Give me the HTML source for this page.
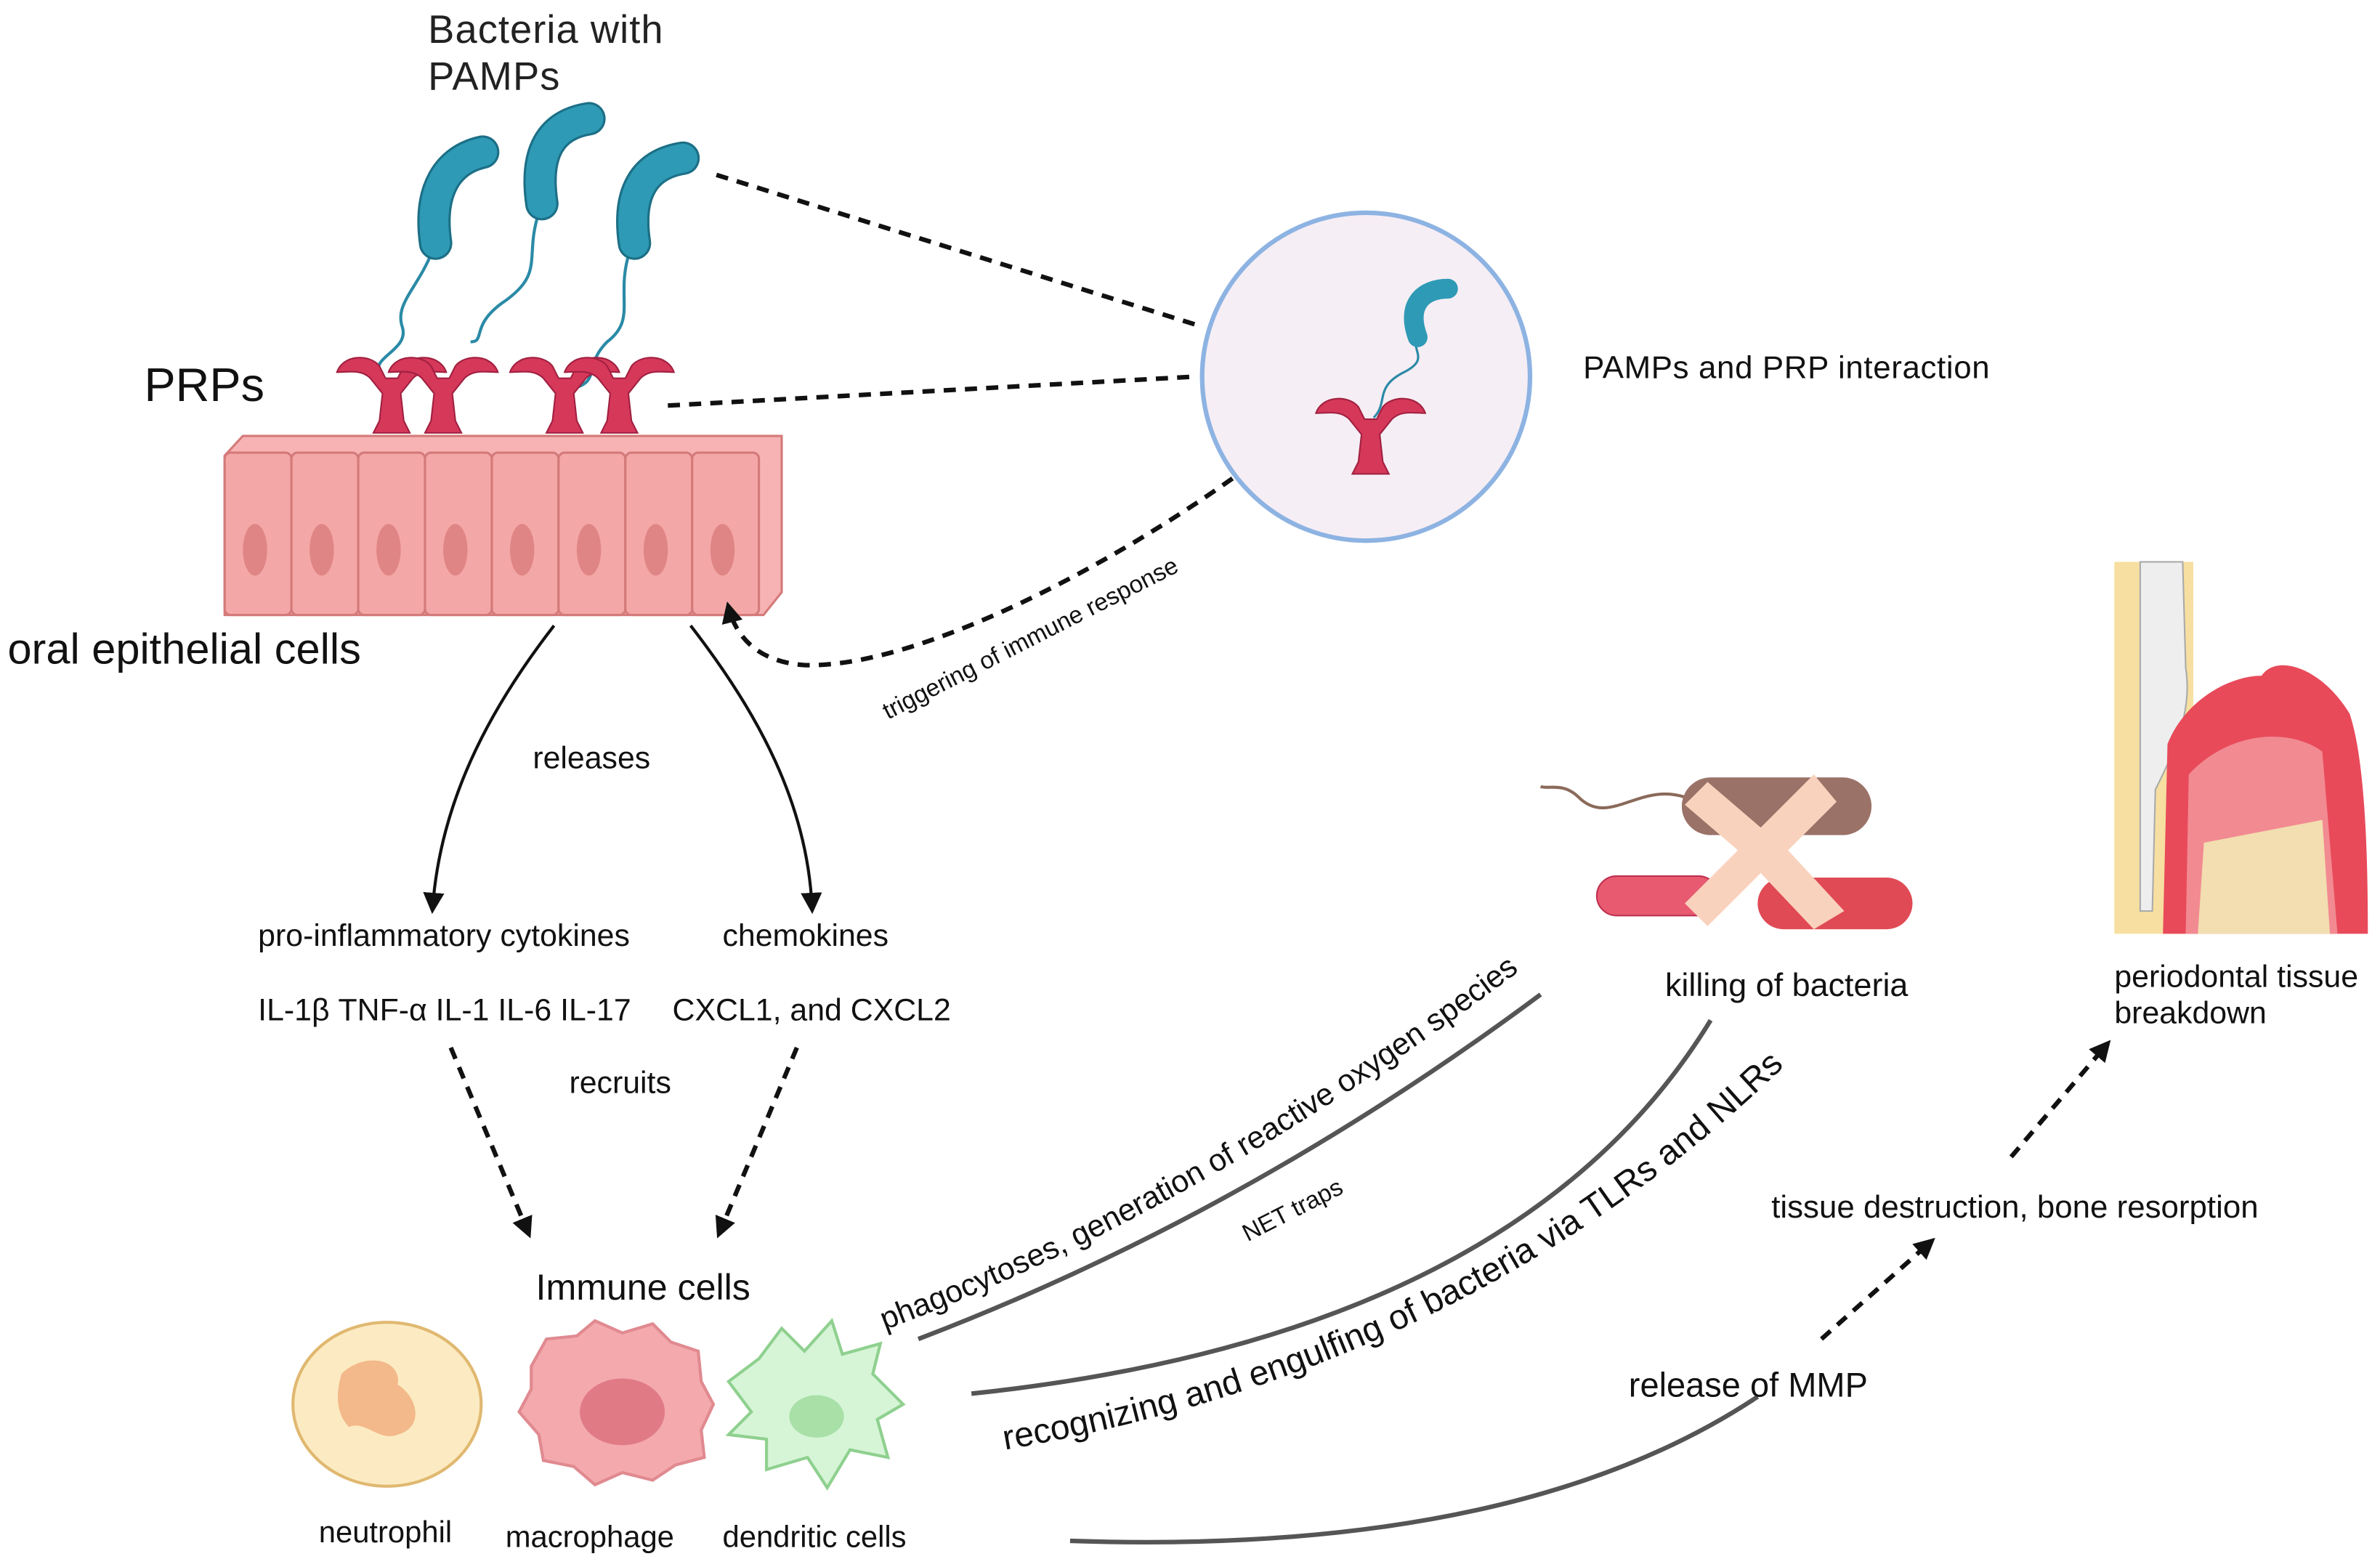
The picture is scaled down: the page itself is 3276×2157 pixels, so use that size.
<!DOCTYPE html>
<html><head><meta charset="utf-8"><style>
html,body{margin:0;padding:0;background:#fff;}
svg{display:block;font-family:"Liberation Sans",sans-serif;}
</style></head><body>
<svg width="3276" height="2157" viewBox="0 0 1568 1032" xmlns="http://www.w3.org/2000/svg">
<defs>
<marker id="ah2" markerWidth="14" markerHeight="14" refX="10" refY="7" orient="auto" markerUnits="userSpaceOnUse"><path d="M0,0 L14,7 L0,14 z" fill="#111"/></marker>
<g id="rec">
<path d="M-36,-10 C-32,-22 -14,-22 -8,-14 L-4,-6 L4,-6 L8,-14 C14,-22 32,-22 36,-10 C28,-10 20,-12 14,-6 L6,4 L8,22 L12,30 L-12,30 L-8,22 L-6,4 L-14,-6 C-20,-12 -28,-10 -36,-10z" fill="#d6385a" stroke="#a02040" stroke-width="1"/>
</g>
<path id="p1" d="M583,876 Q800,795 1020,625"/>
<path id="p2" d="M662,955 Q980,900 1190,688"/>
</defs>
<rect width="1568" height="1032" fill="#fff"/>
<text x="282" y="28" font-size="26" fill="#222" letter-spacing="0.5">Bacteria with</text>
<text x="282" y="59" font-size="26" fill="#222" letter-spacing="0.5">PAMPs</text>
<!-- flagella -->
<g fill="none" stroke="#2a8aa6" stroke-width="2">
<path d="M285,165 C275,190 260,200 265,215 C270,230 245,235 250,245"/>
<path d="M355,140 C345,170 360,180 330,200 C310,215 320,225 310,225"/>
<path d="M415,165 C405,195 420,210 400,225 C385,240 395,250 380,255"/>
</g>
<!-- bacteria rods -->
<g fill="none" stroke-linecap="round">
<path d="M287,160 C282,125 295,105 318,100" stroke="#1c6f86" stroke-width="22"/>
<path d="M287,160 C282,125 295,105 318,100" stroke="#2e9ab5" stroke-width="19"/>
<path d="M357,134 C352,100 363,82 388,78" stroke="#1c6f86" stroke-width="22"/>
<path d="M357,134 C352,100 363,82 388,78" stroke="#2e9ab5" stroke-width="19"/>
<path d="M418,160 C413,126 425,108 450,104" stroke="#1c6f86" stroke-width="22"/>
<path d="M418,160 C413,126 425,108 450,104" stroke="#2e9ab5" stroke-width="19"/>
</g>
<text x="95" y="264" font-size="31" fill="#111">PRPs</text>
<use href="#rec" x="258" y="255"/>
<use href="#rec" x="292" y="255"/>
<use href="#rec" x="372" y="255"/>
<use href="#rec" x="408" y="255"/>
<!-- epithelial cells -->
<path d="M148,300 L160,287 L515,287 L515,390 L503,405 L148,405z" fill="#f7b3b3" stroke="#d47a7a" stroke-width="1.5"/>
<g fill="#f4a7a7" stroke="#d47a7a" stroke-width="1.5">
<rect x="148" y="298" width="44" height="107" rx="4"/>
<rect x="192" y="298" width="44" height="107" rx="4"/>
<rect x="236" y="298" width="44" height="107" rx="4"/>
<rect x="280" y="298" width="44" height="107" rx="4"/>
<rect x="324" y="298" width="44" height="107" rx="4"/>
<rect x="368" y="298" width="44" height="107" rx="4"/>
<rect x="412" y="298" width="44" height="107" rx="4"/>
<rect x="456" y="298" width="44" height="107" rx="4"/>
</g>
<g fill="#e08585">
<ellipse cx="168" cy="362" rx="8" ry="17"/><ellipse cx="212" cy="362" rx="8" ry="17"/><ellipse cx="256" cy="362" rx="8" ry="17"/><ellipse cx="300" cy="362" rx="8" ry="17"/><ellipse cx="344" cy="362" rx="8" ry="17"/><ellipse cx="388" cy="362" rx="8" ry="17"/><ellipse cx="432" cy="362" rx="8" ry="17"/><ellipse cx="476" cy="362" rx="8" ry="17"/>
</g>
<text x="5" y="437" font-size="28.5" fill="#111">oral epithelial cells</text>
<g stroke="#111" stroke-width="3" stroke-dasharray="8,6" fill="none">
<line x1="472" y1="115" x2="792" y2="215"/>
<line x1="440" y1="267" x2="786" y2="248"/>
<path d="M812,315 C720,380 600,440 530,438 C500,436 485,420 480,400" marker-end="url(#ah2)"/>
</g>
<circle cx="900" cy="248" r="108" fill="#f6eef5" stroke="#8db3e2" stroke-width="3"/>
<path d="M935,212 C925,230 945,235 925,245 C905,255 915,265 905,275" fill="none" stroke="#2a8aa6" stroke-width="1.5"/>
<path d="M934,222 C926,200 938,190 954,190" fill="none" stroke="#2e9ab5" stroke-width="13" stroke-linecap="round"/>
<use href="#rec" x="903" y="282"/>
<text x="1043" y="249" font-size="21" fill="#111" letter-spacing="0.3">PAMPs and PRP interaction</text>
<text font-size="16" fill="#111" transform="translate(585,474) rotate(-27)">triggering of immune response</text>
<g stroke="#111" stroke-width="2" fill="none">
<path d="M365,412 C320,470 290,530 285,598" marker-end="url(#ah2)"/>
<path d="M455,412 C500,470 532,530 535,598" marker-end="url(#ah2)"/>
</g>
<g font-size="20.5" fill="#111">
<text x="351" y="506">releases</text>
<text x="170" y="623">pro-inflammatory cytokines</text>
<text x="476" y="623">chemokines</text>
<text x="170" y="672">IL-1β TNF-α IL-1 IL-6 IL-17</text>
<text x="443" y="672">CXCL1, and CXCL2</text>
<text x="375" y="720">recruits</text>
</g>
<g stroke="#111" stroke-width="3" stroke-dasharray="8,6" fill="none">
<line x1="297" y1="690" x2="348" y2="812" marker-end="url(#ah2)"/>
<line x1="525" y1="690" x2="474" y2="812" marker-end="url(#ah2)"/>
<line x1="1200" y1="882" x2="1272" y2="818" marker-end="url(#ah2)"/>
<line x1="1325" y1="762" x2="1388" y2="688" marker-end="url(#ah2)"/>
</g>
<text x="353" y="856" font-size="24" fill="#111">Immune cells</text>
<ellipse cx="255" cy="925" rx="62" ry="54" fill="#fcebc2" stroke="#e0b870" stroke-width="2"/>
<path d="M225,905 C240,890 265,895 262,912 C275,920 280,940 262,945 C250,950 240,935 230,940 C220,930 222,915 225,905z" fill="#f3b98a"/>
<path d="M350,900 L360,882 L380,880 L392,870 L410,878 L430,872 L442,884 L460,890 L462,910 L470,925 L462,942 L464,960 L445,965 L430,975 L410,970 L392,978 L378,966 L358,962 L355,945 L342,930 L350,915z" fill="#f4a9ad" stroke="#e08a90" stroke-width="2"/>
<ellipse cx="410" cy="930" rx="28" ry="22" fill="#e07b86"/>
<path d="M480,910 L500,895 L515,875 L530,890 L548,870 L555,892 L580,885 L575,905 L595,925 L578,935 L585,960 L560,955 L545,980 L532,960 L505,968 L505,948 L480,945 L495,930z" fill="#d6f5d6" stroke="#8fd08f" stroke-width="2"/>
<ellipse cx="538" cy="933" rx="18" ry="14" fill="#a8e0a8"/>
<g font-size="20" fill="#111">
<text x="210" y="1016">neutrophil</text>
<text x="333" y="1019">macrophage</text>
<text x="476" y="1019">dendritic cells</text>
</g>
<g stroke="#555" stroke-width="3" fill="none">
<path d="M605,882 Q820,800 1015,655"/>
<path d="M640,918 Q1000,880 1127,672"/>
<path d="M705,1015 Q1000,1025 1158,920"/>
</g>
<text font-size="20.5" fill="#111"><textPath href="#p1">phagocytoses,  generation of reactive oxygen species</textPath></text>
<text font-size="16" fill="#111" transform="translate(822,818) rotate(-27)">NET traps</text>
<text font-size="23" fill="#111"><textPath href="#p2">recognizing and engulfing of bacteria via TLRs and NLRs</textPath></text>
<text x="1073" y="920" font-size="22.5" fill="#111">release of MMP</text>
<!-- killed bacteria -->
<path d="M1110,525 C1080,515 1060,545 1040,525 C1030,515 1020,520 1015,518" fill="none" stroke="#8a6a5a" stroke-width="2"/>
<rect x="1108" y="512" width="125" height="38" rx="19" fill="#9a7268"/>
<rect x="1052" y="577" width="80" height="26" rx="13" fill="#e85a70" stroke="#c03050"/>
<rect x="1158" y="578" width="102" height="34" rx="17" fill="#e04a55"/>
<path d="M1125,515 L1160,545 L1195,510 L1210,528 L1178,560 L1215,600 L1195,612 L1160,575 L1125,610 L1110,595 L1145,560 L1110,530z" fill="#f9d2bd"/>
<text x="1097" y="656" font-size="21.5" fill="#111">killing of bacteria</text>
<!-- tooth -->
<rect x="1393" y="370" width="52" height="245" fill="#f6dfa0"/>
<path d="M1410,370 L1438,370 L1440,440 C1445,470 1430,500 1420,520 L1418,600 L1410,600z" fill="#eeeeee" stroke="#aaa"/>
<path d="M1425,615 L1428,490 C1440,460 1470,445 1490,445 C1500,430 1530,440 1548,470 C1558,500 1560,560 1560,615z" fill="#e84a5a"/>
<path d="M1440,615 L1442,510 C1470,480 1510,480 1530,495 L1540,615z" fill="#f28a92"/>
<path d="M1448,615 L1452,555 L1530,540 L1535,615z" fill="#f2deb0"/>
<text x="1393" y="650" font-size="20.5" fill="#111">periodontal tissue</text>
<text x="1393" y="674" font-size="20.5" fill="#111">breakdown</text>
<text x="1167" y="802" font-size="21" fill="#111">tissue destruction, bone resorption</text>
</svg>
</body></html>
